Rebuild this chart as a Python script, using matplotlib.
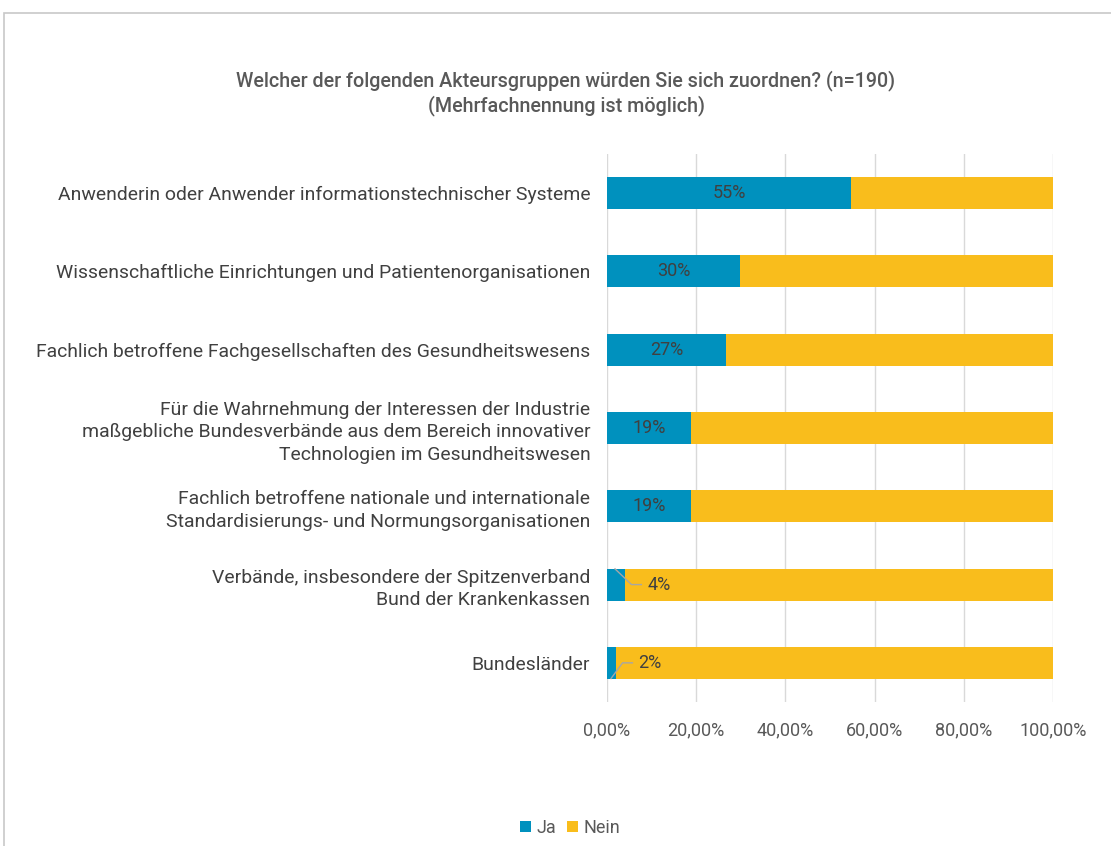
import matplotlib.pyplot as plt
from matplotlib.patches import Rectangle

categories = [
    "Anwenderin oder Anwender informationstechnischer Systeme",
    "Wissenschaftliche Einrichtungen und Patientenorganisationen",
    "Fachlich betroffene Fachgesellschaften des Gesundheitswesens",
    "Für die Wahrnehmung der Interessen der Industrie\nmaßgebliche Bundesverbände aus dem Bereich innovativer\nTechnologien im Gesundheitswesen",
    "Fachlich betroffene nationale und internationale\nStandardisierungs- und Normungsorganisationen",
    "Verbände, insbesondere der Spitzenverband\nBund der Krankenkassen",
    "Bundesländer",
]
ja = [0.547, 0.298, 0.267, 0.188, 0.188, 0.040, 0.020]
ja_labels = ["55%", "30%", "27%", "19%", "19%", "4%", "2%"]
nein = [1 - v for v in ja]
xticks = [0.0, 0.2, 0.4, 0.6, 0.8, 1.0]
xticklabels = ["0,00%", "20,00%", "40,00%", "60,00%", "80,00%", "100,00%"]

blue = "#0091BE"
yellow = "#F9BD1C"
txt = "#595959"
dark = "#404040"

plt.rcParams['font.family'] = ['Roboto', 'DejaVu Sans']

fig = plt.figure(figsize=(11.11, 8.46), dpi=100)
fig.patches.append(Rectangle((4 / 1111, -0.1), 1.2, (846 - 13) / 846 + 0.1,
                             transform=fig.transFigure, fill=False,
                             edgecolor="#c8c8c8", linewidth=1.2))
ax = fig.add_axes([607 / 1111, 1 - 702 / 846, 446 / 1111, 548 / 846])

y = list(range(len(categories)))
ax.barh(y, ja, height=0.41, color=blue, label="Ja", zorder=3)
ax.barh(y, nein, left=ja, height=0.41, color=yellow, label="Nein", zorder=3)

ax.set_ylim(len(categories) - 0.5, -0.5)
ax.set_xlim(0, 1.0)
ax.set_xticks(xticks)
ax.set_xticklabels(xticklabels, color=txt, fontsize=13)
ax.set_yticks(y)
ax.set_yticklabels(categories, color=dark, fontsize=13.95, linespacing=1.33)
ax.tick_params(length=0, pad=14)
ax.tick_params(axis='y', pad=12)
ax.grid(axis='x', color="#d9d9d9", linewidth=1, zorder=0)
for s in ax.spines.values():
    s.set_visible(False)

for i, (v, lab) in enumerate(zip(ja, ja_labels)):
    if v > 0.1:
        ax.text(v / 2, i, lab, ha='center', va='center', color=dark, fontsize=13, zorder=4)
    else:
        # leader line from inside the small bar to a label on the right
        side = -1 if i == 5 else 1
        x0 = v * 0.45
        ax.plot([x0, v + 0.015, v + 0.037], [i + side * 0.2, i, i],
                color="#a6a6a6", lw=1, zorder=4)
        ax.text(v + 0.05, i, lab, ha='left', va='center', color=dark, fontsize=13, zorder=4)

fig.text(566 / 1111, 1 - 93 / 846,
         "Welcher der folgenden Akteursgruppen würden Sie sich zuordnen? (n=190)\n(Mehrfachnennung ist möglich)",
         ha='center', va='center', color=txt, fontsize=14.2, fontweight='medium', linespacing=1.2)

fig.legend(loc='center', bbox_to_anchor=(570 / 1111, 1 - 828 / 846), ncol=2, frameon=False,
           fontsize=13, labelcolor=txt, handlelength=0.6, handleheight=0.6,
           handletextpad=0.3, columnspacing=0.6)

fig.savefig("out.png", dpi=100)
